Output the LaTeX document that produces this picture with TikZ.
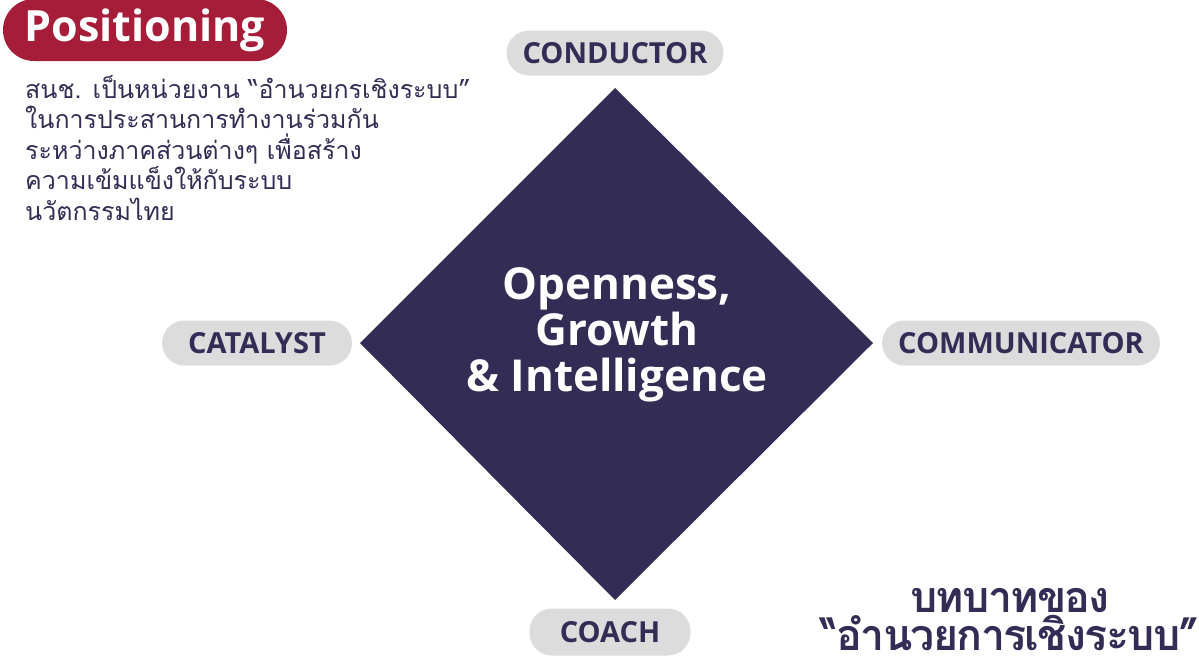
\documentclass[tikz,border=0pt]{standalone}
\usepackage{fontspec}
\setmainfont{Open Sans}
\newfontfamily\thaifont[Script=Thai]{Loma}
\newfontfamily\thaibold[Script=Thai, LetterSpace=-4]{Loma Bold}
\newfontfamily\latinbold{Open Sans}[UprightFont=* Bold]
\definecolor{navy}{HTML}{332D56}
\definecolor{wine}{HTML}{A51D38}
\definecolor{pillgray}{HTML}{DCDCDC}
\tikzset{
  pill/.style={fill=pillgray, rounded corners=22.5pt, minimum height=45pt, inner sep=0pt,
    font=\latinbold\fontsize{29}{30}\selectfont, text=navy},
  titleline/.style={anchor=base, text=navy, inner sep=0pt, text height=27pt, text depth=1pt,
    font=\thaibold\fontsize{43}{44}\selectfont},
}
\begin{document}
\begin{tikzpicture}[x=1pt,y=-1pt]
\useasboundingbox (0,0) rectangle (1199,659);
% diamond
\coordinate (dt) at (615,88);
\coordinate (dr) at (873,343);
\coordinate (db) at (615,600);
\coordinate (dl) at (360,343);
\fill[navy] (dt) -- (dr) -- (db) -- (dl) -- cycle;
\node[text=white, align=center, font=\latinbold\fontsize{44}{46}\selectfont] (core) at (617,335) {Openness,\\Growth\\\& Intelligence};
% pills
\node[pill, minimum width=217pt] (conductor) at (615,53) {CONDUCTOR};
\node[pill, minimum width=190pt] (catalyst) at (257,343) {CATALYST};
\node[pill, minimum width=278pt] (communicator) at (1021,343) {COMMUNICATOR};
\node[pill, minimum width=161pt, minimum height=47pt] (coach) at (610,632) {COACH};
% positioning
\node[fill=wine, rounded corners=31pt, minimum width=284pt, minimum height=62pt, inner sep=0pt,
  text=white, font=\latinbold\fontsize{43}{44}\selectfont] (positioning) at (145,30) {Positioning};
% paragraph
\node[anchor=north west, align=left, text=navy, inner sep=0pt,
  font=\thaifont\fontsize{25}{30.5}\selectfont] (para) at (25,75)
  {สนช. เป็นหน่วยงาน “อำนวยกรเชิงระบบ”\\ในการประสานการทำงานร่วมกัน\\ระหว่างภาคส่วนต่างๆ เพื่อสร้าง\\ความเข้มแข็งให้กับระบบ\\นวัตกรรมไทย};
% bottom right title
\node[titleline] (title1) at (1010,612) {บทบาทของ};
\node[titleline] (title2) at (1010,650) {“อำนวยการเชิงระบบ”};
\end{tikzpicture}
\end{document}
